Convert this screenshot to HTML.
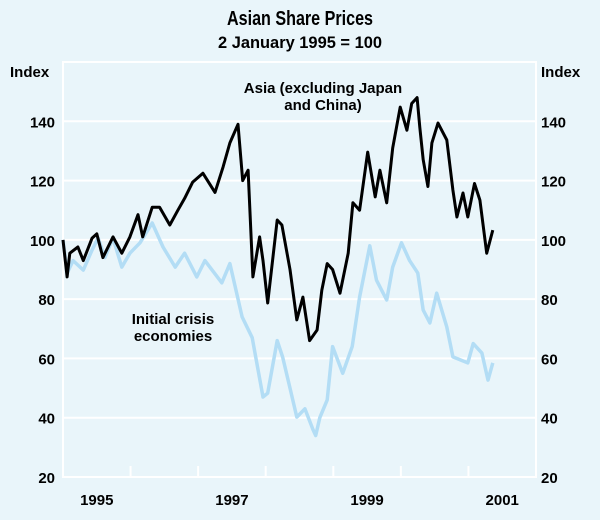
<!DOCTYPE html>
<html><head><meta charset="utf-8"><style>
body{margin:0;background:#e9f5fa;}
svg{display:block;font-family:"Liberation Sans",Arial,sans-serif;}
</style></head><body>
<svg id="chart" width="600" height="520" viewBox="0 0 600 520">
<rect x="0" y="0" width="600" height="520" fill="#e9f5fa"/>
<text x="300" y="25" text-anchor="middle" font-size="20" font-weight="bold" textLength="146" lengthAdjust="spacingAndGlyphs">Asian Share Prices</text>
<text x="300" y="48" text-anchor="middle" font-size="17" font-weight="bold" textLength="164" lengthAdjust="spacingAndGlyphs">2 January 1995 = 100</text>
<text x="10" y="77" font-size="15" font-weight="bold">Index</text>
<text x="541" y="77" font-size="15" font-weight="bold">Index</text>
<g id="grid"></g><g id="ticks"></g><g id="series"></g>
<text x="323" y="93" text-anchor="middle" font-size="15" font-weight="bold">Asia (excluding Japan</text>
<text x="323" y="110" text-anchor="middle" font-size="15" font-weight="bold">and China)</text>
<text x="173" y="324" text-anchor="middle" font-size="15" font-weight="bold">Initial crisis</text>
<text x="173" y="341" text-anchor="middle" font-size="15" font-weight="bold">economies</text>
</svg>
<script>
const yTicks=[20,40,60,80,100,120,140];
const yearLabels=["1995","1997","1999","2001"];
const asiaYears=[1995.0,1995.06,1995.10,1995.22,1995.30,1995.43,1995.50,1995.59,1995.74,1995.87,1995.99,1996.11,1996.18,1996.32,1996.43,1996.58,1996.70,1996.80,1996.92,1997.07,1997.25,1997.37,1997.47,1997.59,1997.66,1997.74,1997.81,1997.91,1997.96,1998.03,1998.17,1998.24,1998.36,1998.46,1998.55,1998.65,1998.76,1998.83,1998.91,1998.99,1999.10,1999.22,1999.29,1999.39,1999.51,1999.62,1999.69,1999.79,1999.88,1999.99,2000.09,2000.16,2000.24,2000.28,2000.33,2000.40,2000.46,2000.55,2000.68,2000.77,2000.83,2000.92,2000.99,2001.09,2001.17,2001.27,2001.36];
const asiaValues=[100,87.5,95.5,97.6,93,100.6,102,94,101,95.5,101,108.5,101,111,111,105,110,114,119.5,122.5,116,124.6,132.7,139,120,123.5,87.5,101,93,78.7,106.7,105,90,73,80.7,66,69.6,83,92,90,82,95.5,112.5,110,129.6,114.5,123.5,112.5,131,144.8,137,146,148,138,127,118,132.7,139.4,133.7,116.8,107.7,115.8,107.7,119,113.4,95.5,103.3];
const crisisYears=[1995.0,1995.06,1995.15,1995.30,1995.43,1995.52,1995.62,1995.74,1995.87,1995.99,1996.14,1996.32,1996.48,1996.66,1996.80,1996.98,1997.10,1997.35,1997.47,1997.65,1997.80,1997.96,1998.03,1998.17,1998.25,1998.36,1998.46,1998.58,1998.70,1998.74,1998.80,1998.91,1998.99,1999.14,1999.28,1999.39,1999.54,1999.64,1999.79,1999.88,2000.01,2000.13,2000.25,2000.33,2000.43,2000.53,2000.68,2000.77,2000.99,2001.07,2001.20,2001.29,2001.36];
const crisisValues=[100,88.8,93,89.8,96.6,100.6,94,100.6,90.8,95.5,99,105.7,97.6,90.8,95.5,87.5,93,85.5,92,74,67,47,48.3,66,60.5,50,40.2,43,36,34,40,46,64,55,64,80.7,98,86.4,79.7,90.8,99,93,88.8,76.3,72,82,70.6,60.5,58.5,65,61.8,52.7,58.5];
const X0=63,X1=536,Y0=477,Y1=62;
const xs=yr=>X0+(yr-1995)/7*(X1-X0);
const ys=v=>Y0-(v-20)/140*(Y0-Y1);
const NS="http://www.w3.org/2000/svg";
const grid=document.getElementById('grid'),ticks=document.getElementById('ticks'),series=document.getElementById('series');
function mk(tag,attrs,parent){const e=document.createElementNS(NS,tag);for(const k in attrs)e.setAttribute(k,attrs[k]);parent.appendChild(e);return e;}
let f=mk('path',{d:`M${X0},${Y1}H${X1}V${Y0}H${X0}Z`,fill:'none',stroke:'#fff','stroke-width':2},grid);


yTicks.forEach(v=>{
  const l=mk('line',{x1:X0,x2:X1,y1:ys(v),y2:ys(v),stroke:'#fff','stroke-width':2},grid);
  
  
  const a=mk('text',{x:X0-8,y:ys(v)+6,'text-anchor':'end','font-size':15,'font-weight':'bold'},ticks);a.textContent=v;
  
  
  const b=mk('text',{x:X1+5,y:ys(v)+6,'font-size':15,'font-weight':'bold'},ticks);b.textContent=v;
  
  
});
for(let i=1;i<7;i++){
  const t=mk('line',{x1:xs(1995+i),x2:xs(1995+i),y1:Y0,y2:Y0-11,stroke:'#fff','stroke-width':2},grid);
  
  
}
yearLabels.forEach(y=>{
  const t=mk('text',{x:xs(+y+0.5),y:Y0+28,'text-anchor':'middle','font-size':15,'font-weight':'bold'},ticks);t.textContent=y;
  
  
});
function line(xa,va,color,w,name){
  const d=xa.map((x,i)=>(i?'L':'M')+xs(x).toFixed(1)+','+ys(va[i]).toFixed(1)).join('');
  const p=mk('path',{d:d,fill:'none',stroke:color,'stroke-width':w,'stroke-linejoin':'round'},series);
  
  
}
line(crisisYears,crisisValues,'#b3ddf5',3.5,'crisis-economies-line');
line(asiaYears,asiaValues,'#000',3,'asia-line');
</script>
</body></html>
